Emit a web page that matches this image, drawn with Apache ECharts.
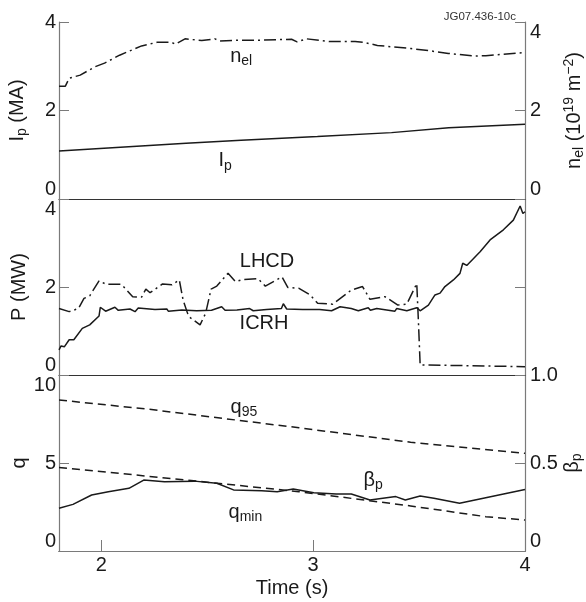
<!DOCTYPE html>
<html>
<head>
<meta charset="utf-8">
<script src="https://cdn.jsdelivr.net/npm/echarts@6/dist/echarts.min.js"></script>
<style>
  html, body { margin: 0; padding: 0; background: #fff; }
  #main { width: 586px; height: 602px; }
</style>
</head>
<body>
<div id="main"></div>
<script>
// time axis
const timeTicks = [2, 3, 4];

// top panel: n_el (10^19 m^-2) and I_p (MA)
const nelT = [1.8, 1.83, 1.848, 1.90, 1.971, 2.015, 2.086, 2.19, 2.263, 2.33, 2.35, 2.395, 2.474, 2.536, 2.56, 2.65, 2.757, 2.898, 2.924, 2.968, 3.074, 3.198, 3.24, 3.303, 3.462, 3.55, 3.638, 3.762, 3.815, 4.0];
const nelV = [2.55, 2.55, 2.73, 2.80, 2.99, 3.07, 3.25, 3.46, 3.54, 3.54, 3.50, 3.62, 3.58, 3.62, 3.57, 3.59, 3.59, 3.61, 3.55, 3.62, 3.56, 3.56, 3.54, 3.47, 3.40, 3.35, 3.29, 3.23, 3.24, 3.31];
const ipT = [1.8, 2.09, 2.4, 2.66, 3.02, 3.37, 3.64, 4.0];
const ipV = [1.085, 1.17, 1.26, 1.33, 1.41, 1.50, 1.61, 1.69];

// middle panel: P (MW)
const icrhT = [1.8, 1.81, 1.825, 1.848, 1.87, 1.91, 1.945, 1.989, 1.995, 2.0, 2.02, 2.064, 2.08, 2.135, 2.159, 2.174, 2.253, 2.309, 2.316, 2.38, 2.45, 2.52, 2.568, 2.584, 2.64, 2.70, 2.717, 2.78, 2.85, 2.859, 2.875, 2.95, 3.03, 3.087, 3.127, 3.18, 3.213, 3.26, 3.27, 3.30, 3.386, 3.394, 3.442, 3.489, 3.505, 3.544, 3.575, 3.599, 3.622, 3.662, 3.693, 3.706, 3.725, 3.788, 3.835, 3.898, 3.945, 3.977, 3.99, 4.0];
const icrhV = [0.57, 0.66, 0.64, 0.80, 0.80, 1.06, 1.14, 1.34, 1.54, 1.52, 1.45, 1.54, 1.47, 1.50, 1.44, 1.52, 1.49, 1.50, 1.45, 1.48, 1.46, 1.47, 1.55, 1.47, 1.48, 1.51, 1.46, 1.49, 1.51, 1.62, 1.50, 1.49, 1.49, 1.46, 1.55, 1.51, 1.46, 1.53, 1.47, 1.51, 1.45, 1.51, 1.46, 1.53, 1.46, 1.59, 1.82, 1.86, 2.01, 2.16, 2.31, 2.54, 2.49, 2.80, 3.07, 3.30, 3.52, 3.84, 3.67, 3.71];
const lhcdT = [1.8, 1.848, 1.892, 1.918, 1.945, 1.989, 2.024, 2.095, 2.148, 2.19, 2.21, 2.23, 2.289, 2.333, 2.368, 2.386, 2.412, 2.466, 2.492, 2.518, 2.545, 2.598, 2.633, 2.668, 2.739, 2.774, 2.853, 2.88, 2.933, 2.985, 3.021, 3.092, 3.18, 3.233, 3.268, 3.339, 3.40, 3.442, 3.489, 3.497, 3.505, 4.0];
const lhcdV = [1.51, 1.44, 1.51, 1.74, 1.80, 2.14, 2.06, 2.06, 1.78, 1.77, 1.95, 1.87, 2.07, 2.05, 2.16, 1.70, 1.33, 1.14, 1.40, 1.95, 2.02, 2.31, 2.12, 2.17, 2.19, 2.02, 2.23, 1.99, 1.97, 1.82, 1.63, 1.61, 1.93, 2.01, 1.72, 1.78, 1.59, 1.61, 2.08, 1.20, 0.23, 0.19];

// bottom panel: q (left) and beta_p (right)
const q95T = [1.8, 2.227, 2.933, 3.46, 4.0];
const q95V = [8.58, 8.05, 7.0, 6.18, 5.55];
const qminT = [1.8, 2.403, 2.933, 3.46, 3.815, 4.0];
const qminV = [4.75, 4.03, 3.37, 2.56, 1.95, 1.76];
const betaT = [1.8, 1.866, 1.954, 2.033, 2.13, 2.2, 2.298, 2.439, 2.545, 2.624, 2.757, 2.83, 2.906, 3.003, 3.109, 3.18, 3.268, 3.39, 3.435, 3.505, 3.57, 3.691, 4.0];
const betaV = [0.243, 0.265, 0.318, 0.337, 0.356, 0.403, 0.394, 0.397, 0.385, 0.347, 0.343, 0.337, 0.352, 0.331, 0.324, 0.324, 0.29, 0.309, 0.29, 0.312, 0.30, 0.271, 0.35];

const zip = (t, v) => t.map((x, i) => [x, v[i]]);

const FONT = 'Liberation Sans';
const INK = '#1a1a1a';
const AXC = '#7a7a7a';
const richTxt = {
  t: { fontSize: 20, color: INK, fontFamily: FONT },
  sub: { fontSize: 14, color: INK, fontFamily: FONT, padding: [10, 0, 0, 0] },
  sup: { fontSize: 14, color: INK, fontFamily: FONT, padding: [0, 0, 10, 0] }
};

let chart = echarts.init(document.getElementById('main'));

function topX(grid) {
  return {
    type: 'value', gridIndex: grid, position: 'top', min: 1.8, max: 4,
    axisLine: { show: true, lineStyle: { color: '#333', width: 1.2 } },
    axisTick: { show: false }, axisLabel: { show: false }, splitLine: { show: false }
  };
}

function yAx(grid, pos, min, max, interval, opts) {
  opts = opts || {};
  return {
    type: 'value', gridIndex: grid, position: pos, min: min, max: max, interval: interval,
    axisLine: { show: true, onZero: false, lineStyle: { color: AXC, width: 1.2 } },
    axisTick: { show: true, inside: true, length: 10, lineStyle: { color: AXC } },
    axisLabel: Object.assign({
      show: true, fontSize: 20, color: INK, fontFamily: FONT,
      margin: pos === 'left' ? 3 : 5
    }, opts.label || {}),
    splitLine: { show: false },
    name: opts.name || '', nameLocation: 'middle', nameGap: opts.gap || 30,
    nameMoveOverlap: false,
    nameTextStyle: { rich: richTxt, fontSize: 20, color: INK, fontFamily: FONT }
  };
}

function tag(coord, text) {
  return {
    coord: coord, symbolSize: 0,
    label: { show: true, position: 'inside', formatter: text, rich: richTxt }
  };
}

function line(name, data, xi, yi, type, marks) {
  return {
    name: name, type: 'line', xAxisIndex: xi, yAxisIndex: yi, data: data,
    showSymbol: false, symbol: 'none', silent: true, animation: false,
    lineStyle: { color: INK, width: 1.5, type: type },
    markPoint: marks ? { symbol: 'circle', symbolSize: 0, data: marks, animation: false } : undefined
  };
}

function panel(top, height) {
  return { left: 59, width: 466, top: top, height: height, containLabel: false, outerBoundsMode: 'none' };
}

let option = {
  backgroundColor: '#fff',
  animation: false,
  title: {
    text: 'JG07.436-10c', right: 65, top: 6,
    textStyle: { fontSize: 11.5, fontWeight: 'normal', color: '#333', fontFamily: FONT }
  },
  grid: [panel(22, 177), panel(199, 176), panel(375, 176)],
  xAxis: [
    topX(0), topX(1), topX(2),
    {
      type: 'value', gridIndex: 2, position: 'bottom', min: 1.8, max: 4,
      axisLine: { show: true, onZero: false, lineStyle: { color: AXC, width: 1.2 } },
      axisTick: { show: true, inside: true, length: 11, customValues: timeTicks, lineStyle: { color: AXC } },
      axisLabel: { show: true, customValues: timeTicks, fontSize: 20, color: INK, fontFamily: FONT, margin: 4 },
      splitLine: { show: false },
      name: 'Time (s)', nameLocation: 'middle', nameGap: 27, nameMoveOverlap: false,
      nameTextStyle: { fontSize: 20, color: INK, fontFamily: FONT }
    }
  ],
  yAxis: [
    yAx(0, 'left', 0, 4, 2, { name: '{t|I}{sub|p}{t| (MA)}', gap: 30,
      label: { verticalAlignMinLabel: 'bottom' } }),
    yAx(0, 'right', 0, 4, 2, { name: '{t|n}{sub|el}{t| (10}{sup|19}{t| m}{sup|−2}{t|)}', gap: 37,
      label: { verticalAlignMinLabel: 'bottom', verticalAlignMaxLabel: 'top' } }),
    yAx(1, 'left', 0, 4, 2, { name: '{t|P (MW)}', gap: 30,
      label: { verticalAlignMinLabel: 'bottom', verticalAlignMaxLabel: 'top' } }),
    yAx(1, 'right', 0, 4, 2, { label: { show: false } }),
    yAx(2, 'left', 0, 10, 5, { name: '{t|q}', gap: 30,
      label: { verticalAlignMinLabel: 'bottom', verticalAlignMaxLabel: 'top' } }),
    yAx(2, 'right', 0, 1, 0.5, { name: '{t|β}{sub|p}', gap: 35,
      label: { verticalAlignMinLabel: 'bottom',
        formatter: function (v) { return v === 0 ? '0' : v.toFixed(1); } } })
  ],
  series: [
    line('nel', zip(nelT, nelV), 0, 1, [12, 4, 2, 4], [tag([2.66, 3.22], '{t|n}{sub|el}')]),
    line('Ip', zip(ipT, ipV), 0, 0, 'solid', [tag([2.584, 0.86], '{t|I}{sub|p}')]),
    line('LHCD', zip(lhcdT, lhcdV), 1, 2, [12, 4, 2, 4], [tag([2.782, 2.59], '{t|LHCD}')]),
    line('ICRH', zip(icrhT, icrhV), 1, 2, 'solid', [tag([2.768, 1.18], '{t|ICRH}')]),
    line('q95', zip(q95T, q95V), 2, 4, [8, 5], [tag([2.673, 8.15], '{t|q}{sub|95}')]),
    line('qmin', zip(qminT, qminV), 2, 4, [8, 5], [tag([2.68, 2.2], '{t|q}{sub|min}')]),
    line('betap', zip(betaT, betaV), 2, 5, 'solid', [tag([3.283, 0.403], '{t|β}{sub|p}')])
  ]
};

chart.setOption(option);
</script>
</body>
</html>
